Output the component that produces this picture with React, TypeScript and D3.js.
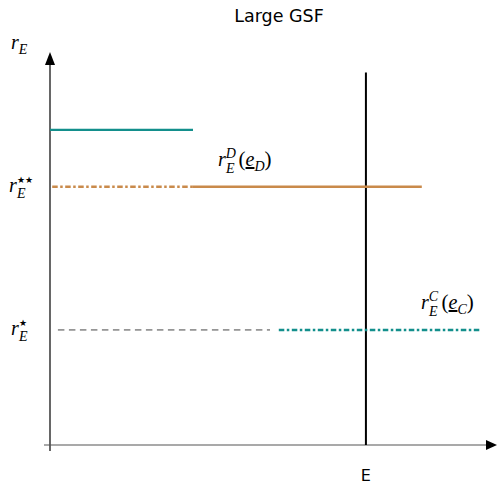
import React from "react";
import * as d3 from "d3";

// Horizontal levels in normalised units: [xStart, xEnd, y]
const tealTop = [0, 0.325, 0.808];
const orangeDashDot = [0.005, 0.323, 0.662];
const orangeSolid = [0.323, 0.845, 0.662];
const grayDashed = [0.018, 0.5, 0.295];
const tealDashDot = [0.52, 0.977, 0.295];
const eLine = [0.718, 0, 0.955];

const W = 498;
const H = 484;
const TEAL = "#138f8c";
const ORANGE = "#c98a4b";

export default function App() {
  const x = d3.scaleLinear().domain([0, 1]).range([50, 490]);
  const y = d3.scaleLinear().domain([0, 1]).range([445, 55]);

  const seg = (s: number[], stroke: string, width: number, dash?: string) => (
    <line
      x1={x(s[0])}
      x2={x(s[1])}
      y1={y(s[2])}
      y2={y(s[2])}
      stroke={stroke}
      strokeWidth={width}
      strokeDasharray={dash}
    />
  );

  const math = { fontFamily: "'Liberation Serif', serif", fontStyle: "italic" } as const;

  return (
    <svg width={W} height={H} style={{ position: "absolute", left: 0, top: 0 }}>
      <rect width={W} height={H} fill="white" />
      <text x={279} y={22} textAnchor="middle" fontFamily="'DejaVu Sans', sans-serif" fontSize={17.5}>
        Large GSF
      </text>

      {/* axes */}
      <line x1={x(0)} x2={x(0)} y1={y(0) + 6} y2={y(1) + 8} stroke="black" strokeWidth={1.2} />
      <path d={`M${x(0) - 5},${y(1) + 10} L${x(0)},${y(1) - 3} L${x(0) + 5},${y(1) + 10} Z`} fill="black" />
      <line x1={x(0) - 6} x2={x(1) - 2} y1={y(0)} y2={y(0)} stroke="#555" strokeWidth={1.2} />
      <path d={`M${x(1) - 4},${y(0) - 5} L${x(1) + 7},${y(0)} L${x(1) - 4},${y(0) + 5} Z`} fill="black" />

      {/* vertical line at E */}
      <line x1={x(eLine[0])} x2={x(eLine[0])} y1={y(eLine[1])} y2={y(eLine[2])} stroke="black" strokeWidth={2} />

      {seg(tealTop, TEAL, 2.2)}
      {seg(orangeDashDot, ORANGE, 2.4, "5.5,2.5,2.5,2.5")}
      {seg(orangeSolid, ORANGE, 2.4)}
      {seg(grayDashed, "#444", 1, "6.5,4.5")}
      {seg(tealDashDot, TEAL, 2.4, "5.5,2.5,2.5,2.5")}

      {/* labels */}
      <text x={11} y={49} style={math} fontSize={20}>
        r<tspan fontSize={14} dy={5}>E</tspan>
      </text>
      <text x={9} y={192} style={math} fontSize={20}>
        r<tspan fontSize={9} fontStyle="normal" dx={0.5} dy={-9}>★★</tspan>
        <tspan fontSize={14} x={17} dy={15}>E</tspan>
      </text>
      <text x={11} y={335} style={math} fontSize={20}>
        r<tspan fontSize={9} fontStyle="normal" dx={0.5} dy={-9}>★</tspan>
        <tspan fontSize={14} x={19} dy={15}>E</tspan>
      </text>
      <text x={218} y={166} style={math} fontSize={20}>
        r<tspan fontSize={14} dy={-8}>D</tspan>
        <tspan fontSize={14} x={226} dy={15}>E</tspan>
        <tspan fontSize={21} fontStyle="normal" dx={4} dy={-7}>(</tspan>
        <tspan fontSize={20} textDecoration="underline">e</tspan>
        <tspan fontSize={14} dy={5}>D</tspan>
        <tspan fontSize={21} fontStyle="normal" dy={-5}>)</tspan>
      </text>
      <text x={421} y={309} style={math} fontSize={20}>
        r<tspan fontSize={14} dy={-8}>C</tspan>
        <tspan fontSize={14} x={429} dy={15}>E</tspan>
        <tspan fontSize={21} fontStyle="normal" dx={4} dy={-7}>(</tspan>
        <tspan fontSize={20} textDecoration="underline">e</tspan>
        <tspan fontSize={14} dy={5}>C</tspan>
        <tspan fontSize={21} fontStyle="normal" dy={-5}>)</tspan>
      </text>
      <text x={x(eLine[0])} y={481} textAnchor="middle" fontFamily="'DejaVu Sans', sans-serif" fontSize={16}>
        E
      </text>
    </svg>
  );
}
